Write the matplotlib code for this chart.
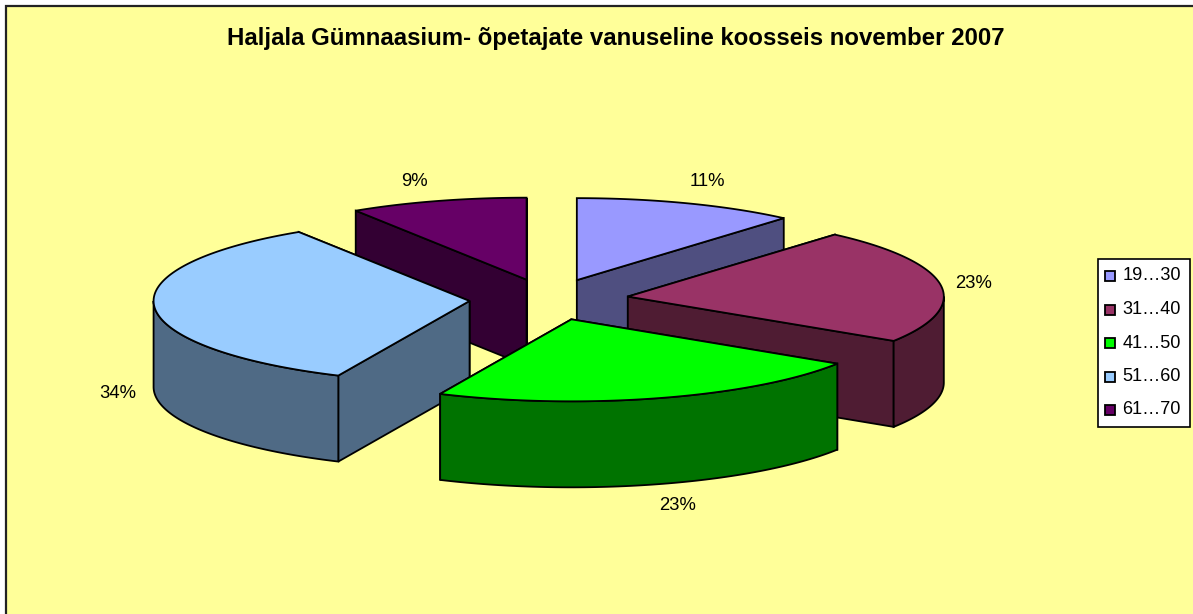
import numpy as np
import matplotlib.pyplot as plt
from matplotlib.patches import Polygon, Rectangle

plt.rcParams["font.family"] = ["Liberation Sans", "DejaVu Sans"]

title = "Haljala Gümnaasium- õpetajate vanuseline koosseis november 2007"
categories = ["19…30", "31…40", "41…50", "51…60", "61…70"]
teachers = [5, 10, 10, 15, 4]

top_colors = ["#9999ff", "#993366", "#00ff00", "#99ccff", "#660066"]
side_colors = ["#4f4f80", "#4f1c33", "#007300", "#4f6a85", "#330033"]

# pie geometry in pixels
cx, cy = 549, 299.5
rx, ry = 316, 82
depth = 86
explode = 0.252
draw_order = [0, 4, 1, 3, 2]
label_pos = [(707, 182), (974, 283), (678, 506), (118, 394), (414, 181)]


def rim(apex, a):
    return apex[0] + rx * np.sin(a), apex[1] - ry * np.cos(a)


def drop(points):
    return [(x, y + depth) for x, y in points]


fig = plt.figure(figsize=(11.93, 6.14), dpi=100, facecolor="white")
ax = fig.add_axes([0, 0, 1, 1])
ax.set_xlim(0, 1193)
ax.set_ylim(614, 0)
ax.axis("off")

ax.add_patch(Rectangle((5.5, 5.5), 1300, 700, fc="#ffff99", ec="#222222", lw=1.6))
ax.text(616, 38, title, ha="center", va="center", fontsize=17.25, fontweight="bold")

edges = np.cumsum([0] + teachers) / sum(teachers) * 2 * np.pi

for i in draw_order:
    a0, a1 = edges[i], edges[i + 1]
    mid = (a0 + a1) / 2
    apex = (cx + explode * rx * np.sin(mid), cy - explode * ry * np.cos(mid))

    # radial walls, the one nearer the viewer goes last
    walls = sorted([a0, a1], key=lambda a: -np.cos(a))
    for a in walls:
        top = [apex, rim(apex, a)]
        ax.add_patch(Polygon(top + drop(top)[::-1], fc=side_colors[i], ec="black", lw=1.3))

    # outer wall, only the front half of the ellipse shows
    f0, f1 = max(a0, np.pi / 2), min(a1, 3 * np.pi / 2)
    if f0 < f1:
        t = np.linspace(f0, f1, 80)
        arc = [rim(apex, a) for a in t]
        ax.add_patch(Polygon(arc + drop(arc)[::-1], fc=side_colors[i], ec="black", lw=1.3))

    t = np.linspace(a0, a1, 120)
    ax.add_patch(Polygon([apex] + [rim(apex, a) for a in t], fc=top_colors[i], ec="black", lw=1.3))

for i, v in enumerate(teachers):
    pct = f"{round(100 * v / sum(teachers))}%"
    ax.text(label_pos[i][0], label_pos[i][1], pct, ha="center", va="center", fontsize=13.3)

# legend
ax.add_patch(Rectangle((1097.5, 258.5), 92, 168, fc="white", ec="black", lw=1.2))
for i, name in enumerate(categories):
    y = 275.5 + i * 33.5
    ax.add_patch(Rectangle((1104.5, y - 4.5), 10, 10, fc=top_colors[i], ec="black", lw=1.3))
    ax.text(1122.5, y + 0.5, name, ha="left", va="center", fontsize=13.1)

fig.savefig("out.png", dpi=100)
